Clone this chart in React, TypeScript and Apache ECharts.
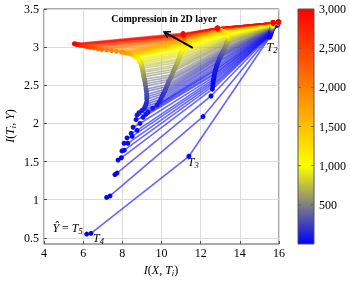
import React, { useEffect, useRef } from 'react';
import * as echarts from 'echarts';

// epochs (colour value of each line)
const epochs = [
  // early
  0, 5, 10, 15, 20, 25, 30, 40, 50, 60, 70, 80, 90, 100,
  // fitting
  120, 150, 180, 210, 240, 270, 300, 340, 380, 420, 460, 500, 540, 580, 620, 660,
  700, 740, 780, 820, 850, 880, 910, 940, 970, 1000,
  // transition
  1030, 1060, 1090, 1120, 1150, 1180, 1210, 1240, 1270, 1300, 1340, 1380, 1420, 1460, 1500, 1550, 1600,
  // compression
  1650, 1700, 1750, 1800, 1880, 1960, 2040, 2120, 2200, 2280, 2360, 2440, 2520, 2600,
  2680, 2760, 2840, 2920, 3000,
];

// layer T1
const t1x = [
  15.90, 15.91, 15.91, 15.92, 15.92, 15.92, 15.92, 15.93, 15.93, 15.93, 15.93, 15.93, 15.94, 15.94,
  15.94, 15.94, 15.94, 15.94, 15.94, 15.94, 15.95, 15.95, 15.95, 15.95, 15.95, 15.95, 15.95, 15.95, 15.95, 15.95,
  15.96, 15.96, 15.96, 15.96, 15.96, 15.96, 15.96, 15.96, 15.96, 15.96,
  15.96, 15.96, 15.96, 15.96, 15.96, 15.97, 15.97, 15.97, 15.97, 15.97, 15.97, 15.97, 15.97, 15.97, 15.97, 15.97, 15.97,
  15.97, 15.97, 15.97, 15.97, 15.97, 15.97, 15.97, 15.97, 15.97, 15.97, 15.97, 15.97, 15.97, 15.97,
  15.97, 15.97, 15.97, 15.97, 15.97,
];
const t1y = [
  3.29, 3.29, 3.30, 3.30, 3.30, 3.30, 3.30, 3.30, 3.31, 3.31, 3.31, 3.31, 3.31, 3.31,
  3.31, 3.31, 3.31, 3.31, 3.32, 3.32, 3.32, 3.32, 3.32, 3.32, 3.32, 3.32, 3.32, 3.32, 3.32, 3.32,
  3.33, 3.33, 3.33, 3.33, 3.33, 3.33, 3.33, 3.33, 3.33, 3.33,
  3.33, 3.33, 3.33, 3.33, 3.33, 3.33, 3.33, 3.33, 3.33, 3.33, 3.33, 3.33, 3.33, 3.33, 3.33, 3.33, 3.33,
  3.33, 3.33, 3.33, 3.33, 3.33, 3.33, 3.33, 3.33, 3.33, 3.33, 3.33, 3.33, 3.33, 3.33,
  3.33, 3.33, 3.33, 3.33, 3.33,
];

// layer T2
const t2x = [
  15.52, 15.55, 15.56, 15.57, 15.57, 15.58, 15.58, 15.58, 15.59, 15.59, 15.60, 15.60, 15.60, 15.61,
  15.61, 15.61, 15.62, 15.62, 15.62, 15.63, 15.63, 15.63, 15.64, 15.64, 15.64, 15.65, 15.65, 15.65, 15.65, 15.66,
  15.66, 15.66, 15.66, 15.67, 15.67, 15.67, 15.67, 15.67, 15.68, 15.68,
  15.68, 15.68, 15.68, 15.68, 15.68, 15.68, 15.69, 15.69, 15.69, 15.69, 15.69, 15.69, 15.69, 15.69, 15.69, 15.69, 15.69,
  15.69, 15.69, 15.69, 15.69, 15.70, 15.70, 15.70, 15.70, 15.70, 15.70, 15.70, 15.70, 15.70, 15.70,
  15.70, 15.70, 15.70, 15.70, 15.70,
];
const t2y = [
  3.13, 3.15, 3.16, 3.17, 3.17, 3.18, 3.18, 3.19, 3.19, 3.20, 3.20, 3.21, 3.21, 3.22,
  3.22, 3.22, 3.23, 3.23, 3.23, 3.24, 3.24, 3.24, 3.25, 3.25, 3.25, 3.26, 3.26, 3.26, 3.27, 3.27,
  3.27, 3.28, 3.28, 3.28, 3.28, 3.29, 3.29, 3.29, 3.29, 3.29,
  3.30, 3.30, 3.30, 3.30, 3.30, 3.30, 3.30, 3.30, 3.30, 3.31, 3.31, 3.31, 3.31, 3.31, 3.31, 3.31, 3.31,
  3.31, 3.31, 3.31, 3.31, 3.32, 3.32, 3.32, 3.32, 3.32, 3.32, 3.32, 3.32, 3.32, 3.32,
  3.32, 3.32, 3.32, 3.32, 3.32,
];

// layer T3
const t3x = [
  11.40, 12.12, 12.53, 12.60, 12.62, 12.63, 12.64, 12.66, 12.68, 12.70, 12.72, 12.74, 12.77, 12.80,
  12.84, 12.88, 12.92, 12.96, 13.00, 13.04, 13.08, 13.12, 13.16, 13.20, 13.24, 13.28, 13.31, 13.34, 13.37, 13.39,
  13.41, 13.42, 13.43, 13.43, 13.43, 13.42, 13.41, 13.40, 13.38, 13.36,
  13.34, 13.31, 13.28, 13.25, 13.22, 13.19, 13.16, 13.13, 13.10, 13.07, 13.04, 13.02, 13.00, 12.98, 12.97, 12.96, 12.95,
  12.94, 12.93, 12.93, 12.92, 12.91, 12.90, 12.90, 12.89, 12.89, 12.88, 12.88, 12.87, 12.87, 12.87,
  12.86, 12.86, 12.86, 12.85, 12.85,
];
const t3y = [
  1.57, 2.09, 2.36, 2.45, 2.49, 2.52, 2.55, 2.58, 2.61, 2.64, 2.66, 2.69, 2.71, 2.74,
  2.77, 2.80, 2.82, 2.85, 2.87, 2.89, 2.91, 2.93, 2.95, 2.97, 2.99, 3.01, 3.03, 3.05, 3.06, 3.08,
  3.09, 3.10, 3.11, 3.12, 3.13, 3.14, 3.15, 3.15, 3.16, 3.17,
  3.17, 3.18, 3.18, 3.19, 3.19, 3.20, 3.20, 3.20, 3.21, 3.21, 3.21, 3.21, 3.22, 3.22, 3.22, 3.22, 3.22,
  3.22, 3.22, 3.23, 3.23, 3.23, 3.23, 3.23, 3.24, 3.24, 3.24, 3.24, 3.24, 3.24, 3.25,
  3.25, 3.25, 3.25, 3.25, 3.25,
];

// layer T4
const t4x = [
  6.40, 7.37, 7.73, 7.95, 8.10, 8.28, 8.50, 8.75, 8.90, 9.06, 9.20, 9.31, 9.55, 9.77,
  9.88, 9.97, 10.04, 10.10, 10.16, 10.21, 10.26, 10.31, 10.37, 10.43, 10.49, 10.54, 10.60, 10.66, 10.71, 10.76,
  10.81, 10.86, 10.90, 10.94, 10.97, 11.00, 11.03, 11.06, 11.08, 11.10,
  11.12, 11.14, 11.15, 11.17, 11.18, 11.19, 11.20, 11.20, 11.21, 11.21, 11.21, 11.21, 11.21, 11.20, 11.20, 11.19, 11.19,
  11.18, 11.18, 11.17, 11.17, 11.16, 11.16, 11.15, 11.15, 11.14, 11.14, 11.13, 11.13, 11.12, 11.12,
  11.11, 11.11, 11.10, 11.10, 11.10,
];
const t4y = [
  0.56, 1.05, 1.35, 1.55, 1.65, 1.74, 1.83, 1.91, 2.00, 2.08, 2.12, 2.15, 2.20, 2.24,
  2.28, 2.32, 2.36, 2.39, 2.42, 2.45, 2.48, 2.51, 2.55, 2.58, 2.61, 2.64, 2.68, 2.71, 2.74, 2.77,
  2.80, 2.83, 2.85, 2.88, 2.90, 2.92, 2.94, 2.95, 2.97, 2.98,
  2.99, 3.00, 3.01, 3.02, 3.03, 3.03, 3.04, 3.04, 3.05, 3.05, 3.06, 3.06, 3.07, 3.07, 3.08, 3.08, 3.09,
  3.09, 3.10, 3.10, 3.11, 3.11, 3.12, 3.12, 3.13, 3.13, 3.14, 3.14, 3.15, 3.15, 3.16,
  3.16, 3.16, 3.17, 3.17, 3.18,
];

// layer T5 (= Y hat)
const t5x = [
  6.18, 7.20, 7.62, 7.78, 7.98, 8.09, 8.24, 8.45, 8.55, 8.70, 8.75, 8.85, 9.00, 9.10,
  9.16, 9.21, 9.24, 9.25, 9.25, 9.24, 9.23, 9.21, 9.19, 9.17, 9.15, 9.13, 9.10, 9.08, 9.06, 9.04,
  9.02, 9.00, 8.98, 8.96, 8.94, 8.91, 8.88, 8.84, 8.79, 8.72,
  8.70, 8.68, 8.66, 8.65, 8.64, 8.63, 8.62, 8.61, 8.60, 8.59, 8.57, 8.55, 8.52, 8.49, 8.46, 8.42, 8.38,
  8.30, 8.20, 8.08, 7.95, 7.70, 7.45, 7.20, 6.95, 6.75, 6.58, 6.42, 6.28, 6.15, 6.02,
  5.90, 5.80, 5.70, 5.62, 5.55,
];
const t5y = [
  0.55, 1.03, 1.33, 1.52, 1.64, 1.74, 1.81, 1.87, 1.95, 2.05, 2.11, 2.14, 2.17, 2.19,
  2.22, 2.25, 2.28, 2.32, 2.35, 2.38, 2.42, 2.45, 2.49, 2.52, 2.55, 2.58, 2.61, 2.64, 2.67, 2.69,
  2.72, 2.74, 2.76, 2.78, 2.80, 2.81, 2.83, 2.84, 2.85, 2.87,
  2.87, 2.875, 2.88, 2.88, 2.885, 2.89, 2.89, 2.89, 2.895, 2.90, 2.90, 2.90, 2.905, 2.91, 2.91, 2.915, 2.92,
  2.92, 2.925, 2.93, 2.935, 2.945, 2.955, 2.965, 2.97, 2.98, 2.99, 3.00, 3.005, 3.01, 3.02,
  3.025, 3.03, 3.035, 3.04, 3.045,
];

const yTicks = [0.5, 1, 1.5, 2, 2.5, 3, 3.5];
const cbMin = 0;
const cbMax = 3000;
const cbTicks = [500, 1000, 1500, 2000, 2500];

// annotation anchors (data coordinates)
const arrowTail = [11.6, 2.99];
const arrowHead = [10.13, 3.2];
const titlePos = [10.13, 3.38];
const labT2 = [15.64, 3.0];
const labT3 = [11.62, 1.5];
const labT4 = [6.78, 0.5];
const labT5 = [5.98, 0.635];

const SERIF = "'Liberation Serif', 'DejaVu Serif', serif";

function cmap(e: number): string {
  const blue = [0, 0, 255];
  const yellow = [255, 255, 0];
  const red = [255, 0, 0];
  let a: number[], b: number[], f: number;
  if (e <= 1000) { a = blue; b = yellow; f = e / 1000; }
  else { a = yellow; b = red; f = (e - 1000) / 2000; }
  const c = a.map((v, k) => Math.round(v + (b[k] - v) * f));
  return `rgb(${c[0]},${c[1]},${c[2]})`;
}

const rich = {
  i: { fontFamily: SERIF, fontStyle: 'italic', fontSize: 12, lineHeight: 15, color: '#000' },
  r: { fontFamily: SERIF, fontSize: 12, lineHeight: 15, color: '#000' },
  s: { fontFamily: SERIF, fontStyle: 'italic', fontSize: 8.5, lineHeight: 8, verticalAlign: 'bottom', color: '#000' },
};

export default function App() {
  const ref = useRef<HTMLDivElement>(null);
  useEffect(() => {
    const chart = echarts.init(ref.current!, null, { renderer: 'svg', width: 350, height: 281 });
    const series = epochs.map((e, i) => {
      const c = cmap(e);
      return {
        type: 'line',
        xAxisIndex: 0,
        yAxisIndex: 0,
        data: [
          [t1x[i], t1y[i]],
          [t2x[i], t2y[i]],
          [t3x[i], t3y[i]],
          [t4x[i], t4y[i]],
          [t5x[i], t5y[i]],
        ],
        symbol: 'circle',
        symbolSize: 5,
        showSymbol: true,
        lineStyle: { color: c, width: 1.6, opacity: 0.6 },
        itemStyle: { color: c, borderWidth: 0 },
        silent: true,
        animation: false,
        emphasis: { disabled: true },
      };
    });
    const labelStyle = { fontFamily: SERIF, fontSize: 12, color: '#000' };
    const option: any = {
      animation: false,
      grid: [
        { left: 44, top: 9, width: 235, height: 235, show: true, borderColor: '#555', borderWidth: 1, backgroundColor: 'transparent' },
        { left: 298, top: 9, width: 16, height: 235 },
      ],
      xAxis: [
        {
          type: 'value', gridIndex: 0, min: 4, max: 16, interval: 2,
          axisLine: { show: false },
          axisTick: { inside: true, length: 3, lineStyle: { color: '#555' } },
          splitLine: { show: true, lineStyle: { color: '#dcdcdc', width: 1 } },
          axisLabel: { ...labelStyle, margin: 3 },
        },
        { type: 'value', gridIndex: 1, min: 0, max: 1, show: false },
      ],
      yAxis: [
        {
          type: 'value', gridIndex: 0, min: 0.42, max: 3.5,
          axisLine: { show: false },
          axisTick: { inside: true, length: 3, lineStyle: { color: '#555' }, customValues: yTicks },
          splitLine: { show: true, lineStyle: { color: '#dcdcdc', width: 1 } },
          axisLabel: { ...labelStyle, margin: 5, customValues: yTicks },
        },
        {
          type: 'value', gridIndex: 1, min: cbMin, max: cbMax, interval: 500, position: 'right',
          axisLine: { show: false },
          axisTick: { show: false },
          splitLine: { show: false },
          axisLabel: {
            ...labelStyle, margin: 5,
            formatter: (v: number) => (v === 0 ? '' : v.toLocaleString('en-US')),
          },
        },
      ],
      series,
    };
    chart.setOption(option);

    const px = (p: number[]) => chart.convertToPixel({ gridIndex: 0 }, p) as number[];
    const tail = px(arrowTail);
    const head = px(arrowHead);
    const dx = head[0] - tail[0];
    const dy = head[1] - tail[1];
    const len = Math.hypot(dx, dy);
    const ux = dx / len, uy = dy / len;
    const al = 6, aw = 3.5;
    const arm1 = [head[0] - ux * al - uy * aw, head[1] - uy * al + ux * aw];
    const arm2 = [head[0] - ux * al + uy * aw, head[1] - uy * al - ux * aw];
    const tp = px(titlePos);
    const p2 = px(labT2), p3 = px(labT3), p4 = px(labT4), p5 = px(labT5);

    const cbElems: any[] = [];
    cbTicks.forEach((v) => {
      const yy = 9 + 235 * (1 - (v - cbMin) / (cbMax - cbMin));
      cbElems.push({ type: 'line', shape: { x1: 298, y1: yy, x2: 301, y2: yy }, style: { stroke: '#555', lineWidth: 0.8 }, z: 11 });
      cbElems.push({ type: 'line', shape: { x1: 311, y1: yy, x2: 314, y2: yy }, style: { stroke: '#555', lineWidth: 0.8 }, z: 11 });
    });

    chart.setOption({
      graphic: [
        {
          type: 'rect', shape: { x: 298, y: 9, width: 16, height: 235 }, z: 10,
          style: {
            fill: new echarts.graphic.LinearGradient(0, 1, 0, 0, [
              { offset: 0, color: '#0000ff' },
              { offset: 1 / 3, color: '#ffff00' },
              { offset: 1, color: '#ff0000' },
            ]),
            stroke: '#555', lineWidth: 1,
          },
        },
        ...cbElems,
        {
          type: 'line', z: 20,
          shape: { x1: tail[0], y1: tail[1], x2: head[0] - ux * 1, y2: head[1] - uy * 1 },
          style: { stroke: '#000', lineWidth: 2 },
        },
        {
          type: 'polyline', z: 20,
          shape: { points: [arm1, head, arm2] },
          style: { stroke: '#000', lineWidth: 1.5, fill: null },
        },
        {
          type: 'text', z: 20, x: tp[0], y: tp[1],
          style: { text: 'Compression in 2D layer', fontFamily: SERIF, fontWeight: 'bold', fontSize: 10, fill: '#000', align: 'center', verticalAlign: 'middle' },
        },
        {
          type: 'text', z: 20, x: p2[0], y: p2[1],
          style: { text: '{i|T}{s|2}', rich, align: 'center', verticalAlign: 'middle' },
        },
        {
          type: 'text', z: 20, x: p3[0], y: p3[1],
          style: { text: '{i|T}{s|3}', rich, align: 'center', verticalAlign: 'middle' },
        },
        {
          type: 'text', z: 20, x: p4[0], y: p4[1],
          style: { text: '{i|T}{s|4}', rich, align: 'center', verticalAlign: 'middle' },
        },
        {
          type: 'text', z: 20, x: p5[0], y: p5[1],
          style: { text: '{i|Ŷ}{r| = }{i|T}{s|5}', rich, align: 'right', verticalAlign: 'middle' },
        },
        {
          type: 'text', z: 20, x: 161, y: 270,
          style: { text: '{i|I}{r|(}{i|X, T}{s|i}{r|)}', rich, align: 'center', verticalAlign: 'middle' },
        },
        {
          type: 'text', z: 20, x: 10, y: 126, rotation: Math.PI / 2,
          style: { text: '{i|I}{r|(}{i|T}{s|i}{r|, }{i|Y}{r|)}', rich, align: 'center', verticalAlign: 'middle' },
        },
      ],
    });

    return () => chart.dispose();
  }, []);
  return <div ref={ref} style={{ position: 'fixed', left: 0, top: 0, width: 350, height: 281 }} />;
}
